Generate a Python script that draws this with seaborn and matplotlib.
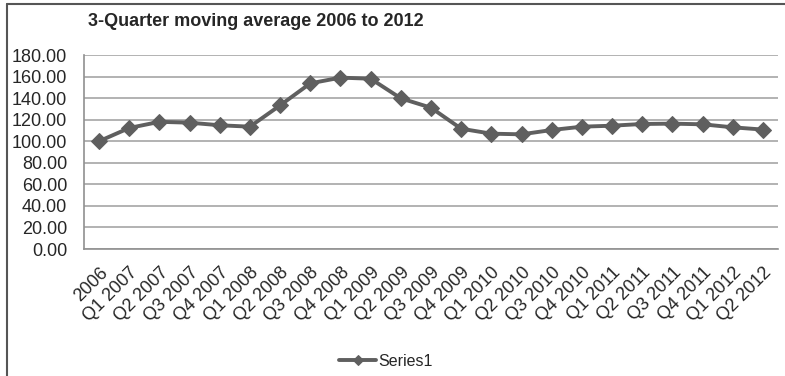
import numpy as np
import matplotlib
matplotlib.use("Agg")
import matplotlib.pyplot as plt
import seaborn as sns
import pandas as pd

periods = ["2006",
           "Q1 2007", "Q2 2007", "Q3 2007", "Q4 2007",
           "Q1 2008", "Q2 2008", "Q3 2008", "Q4 2008",
           "Q1 2009", "Q2 2009", "Q3 2009", "Q4 2009",
           "Q1 2010", "Q2 2010", "Q3 2010", "Q4 2010",
           "Q1 2011", "Q2 2011", "Q3 2011", "Q4 2011",
           "Q1 2012", "Q2 2012"]
series1 = [100.0, 112.3, 118.0, 117.2, 114.8, 113.5, 133.3, 153.7, 159.0,
           158.0, 139.8, 131.1, 111.6, 107.0, 106.4, 110.4, 113.5,
           114.4, 116.0, 116.3, 115.7, 112.9, 110.8]

sns.set_style("white")
plt.rcParams['font.family'] = ['Liberation Sans', 'DejaVu Sans']

df = pd.DataFrame({"period": periods, "value": series1})
df["pos"] = np.arange(len(df))

fig = plt.figure(figsize=(7.85, 3.76), dpi=100)
ax = fig.add_axes([84 / 785, 1 - 249 / 376, 694 / 785, 194 / 376])

line_col = "#5f5f5f"
sns.lineplot(data=df, x="pos", y="value", ax=ax, color=line_col, linewidth=2.8,
             marker="D", markersize=8, markeredgecolor=line_col,
             label="Series1", legend=False)

ax.set_xlim(-0.5, len(periods) - 0.5)
ax.set_ylim(0, 180)
ax.set_yticks(np.arange(0, 181, 20))
ax.set_yticklabels([f"{v:.2f}" for v in np.arange(0, 181, 20)], fontsize=13)
ax.set_xticks(df["pos"])
ax.set_xticklabels(periods, rotation=45, ha="right", rotation_mode="anchor", fontsize=13)
ax.tick_params(axis="y", length=0, pad=12)
ax.tick_params(axis="x", length=0, pad=11)
ax.set_xlabel("")
ax.set_ylabel("")
ax.yaxis.grid(True, color="#a6a6a6", linewidth=1.2)
ax.set_axisbelow(True)
for s in ["top", "right"]:
    ax.spines[s].set_visible(False)
for s in ["left", "bottom"]:
    ax.spines[s].set_color("#909090")
    ax.spines[s].set_linewidth(1.2)

fig.text(88 / 785, 1 - 22 / 376, "3-Quarter moving average 2006 to 2012",
         fontsize=13, fontweight="bold", va="center", ha="left")

# outer chart frame (only left and top edges visible)
fig.add_artist(plt.Line2D([7 / 785, 7 / 785], [0, 1 - 4 / 376], color="#555555", lw=1.5))
fig.add_artist(plt.Line2D([7 / 785, 1], [1 - 4 / 376, 1 - 4 / 376], color="#555555", lw=1.5))

handles, labels = ax.get_legend_handles_labels()
fig.legend(handles, labels, loc="center", bbox_to_anchor=(386 / 785, 1 - 361 / 376),
           frameon=False, fontsize=11.5, handlelength=2.3, handletextpad=0.15,
           markerscale=0.7)

plt.savefig("out.png", dpi=100)
